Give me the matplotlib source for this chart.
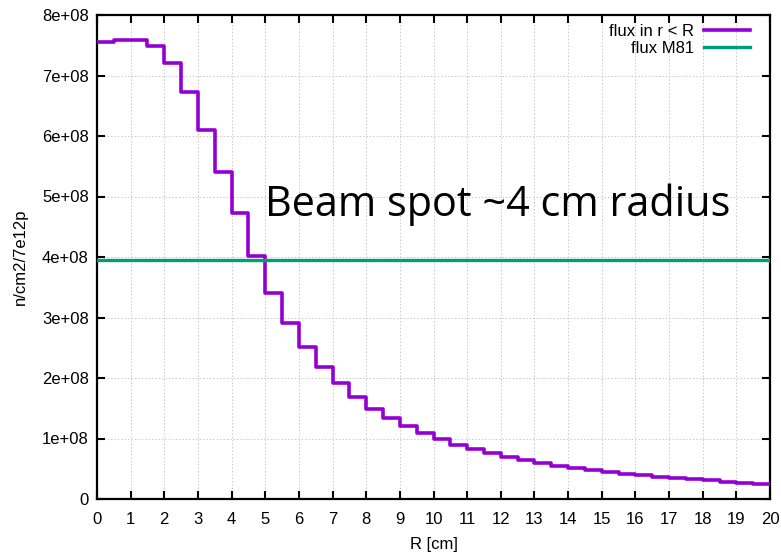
import numpy as np
import matplotlib
matplotlib.use("Agg")
import matplotlib.pyplot as plt

# bin edges (cm) and flux values in each 0.5 cm bin (n/cm2/7e12p)
r_edges = np.arange(0, 20.5, 0.5)
flux_r = [7.55e8, 7.58e8, 7.59e8, 7.48e8, 7.20e8, 6.72e8, 6.10e8, 5.41e8,
          4.72e8, 4.02e8, 3.41e8, 2.91e8, 2.51e8, 2.18e8, 1.91e8, 1.69e8,
          1.49e8, 1.34e8, 1.21e8, 1.09e8, 0.99e8, 0.90e8, 0.83e8, 0.76e8,
          0.70e8, 0.64e8, 0.595e8, 0.55e8, 0.51e8, 0.48e8, 0.446e8, 0.42e8,
          0.397e8, 0.364e8, 0.34e8, 0.325e8, 0.31e8, 0.286e8, 0.27e8, 0.248e8]
flux_m81 = 3.95e8
x_ticks = list(range(0, 21))
y_ticks = [0, 1e8, 2e8, 3e8, 4e8, 5e8, 6e8, 7e8, 8e8]
y_ticklabels = ["0", "1e+08", "2e+08", "3e+08", "4e+08", "5e+08", "6e+08", "7e+08", "8e+08"]

plt.rcParams['font.family'] = ['Liberation Sans', 'DejaVu Sans']

fig = plt.figure(figsize=(7.81, 5.56), dpi=100)
ax = fig.add_axes([97/781, 1 - 499/556, (770 - 97)/781, (499 - 15)/556])

ax.plot(r_edges, list(flux_r) + [flux_r[-1]], drawstyle='steps-post',
        color='#9400D3', lw=2.6, label='flux in r < R', zorder=3)
ax.plot([0, 20], [flux_m81, flux_m81], color='#009E73', lw=2.4,
        label='flux M81', zorder=3)

ax.set_xlim(0, 20)
ax.set_ylim(0, 8e8)
ax.set_xticks(x_ticks)
ax.set_yticks(y_ticks)
ax.set_yticklabels(y_ticklabels)
ax.tick_params(direction='in', length=6, width=1.5, labelsize=12,
               top=True, right=True, colors='black', pad=6)
ax.tick_params(axis='x', pad=9)
for s in ax.spines.values():
    s.set_linewidth(1.6)
ax.grid(True, color='#c8c8c8', linestyle=(0, (1.5, 2)), lw=0.7)

ax.set_xlabel('R [cm]', fontsize=12, va='center')
ax.xaxis.set_label_coords(0.5, -0.094)
ax.set_ylabel('n/cm2/7e12p', fontsize=12, labelpad=10)

leg = ax.legend(loc='upper right', frameon=False, fontsize=12, markerfirst=False,
                handlelength=2.75, borderaxespad=0.0, labelspacing=0.1,
                handletextpad=0.6, bbox_to_anchor=(0.98, 0.995))
for t in leg.get_texts():
    t.set_ha('right')

ax.text(5.0, 4.86e8, 'Beam spot ~4 cm radius', fontsize=29.9,
        family=['Open Sans', 'DejaVu Sans'], color='black', va='center', ha='left')

fig.savefig('out.png', dpi=100)
